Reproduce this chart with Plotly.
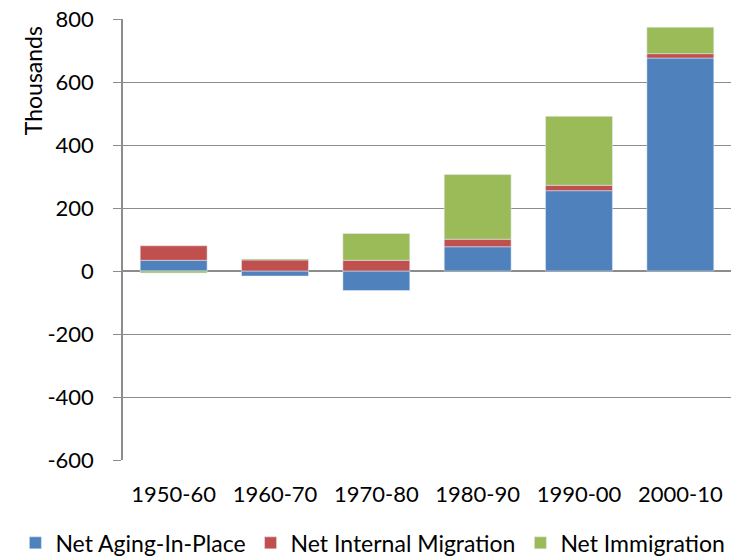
import plotly.graph_objects as go

categories = ["1950-60", "1960-70", "1970-80", "1980-90", "1990-00", "2000-10"]
aging_in_place = [34, -16, -62, 77, 255, 676]
internal_migration = [46, 35, 34, 24, 17, 14]
immigration = [-6, 3, 85, 205, 219, 84]
y_ticks = [-600, -400, -200, 0, 200, 400, 600, 800]
y_tick_text = ["-600", "-400", "-200", "0", "200", "400", "600", "800"]

FONT = "Lato"
GRID = "#8c8c8c"

fig = go.Figure()
fig.add_bar(x=categories, y=aging_in_place, name="Net Aging-In-Place", marker_color="#4F81BD")
fig.add_bar(x=categories, y=internal_migration, name="Net Internal Migration", marker_color="#C0504D")
fig.add_bar(x=categories, y=immigration, name="Net Immigration", marker_color="#9BBB59")

fig.update_layout(
    width=737, height=558,
    barmode="relative",
    bargap=0.34,
    plot_bgcolor="white", paper_bgcolor="white",
    margin=dict(l=123, r=6, t=19, b=98, autoexpand=False),
    font=dict(family=FONT, size=22, color="black"),
    showlegend=True,
    legend=dict(orientation="h", xref="paper", x=-0.177, xanchor="left",
                yref="paper", y=-0.188, yanchor="middle",
                font=dict(size=23), itemwidth=30, tracegroupgap=0,
                traceorder="normal", bgcolor="rgba(0,0,0,0)"),
    annotations=[dict(text="Thousands", textangle=-90, xref="paper", yref="paper",
                      x=-0.148, y=0.859, xanchor="center", yanchor="middle",
                      showarrow=False, font=dict(size=23))],
)
fig.update_xaxes(type="category", showgrid=False, showline=False, ticks="",
                 automargin=False,
                 ticklabelstandoff=19, tickfont=dict(size=22))
fig.update_yaxes(range=[-600, 800], tickvals=y_ticks, ticktext=y_tick_text,
                 automargin=False,
                 showgrid=True, gridcolor=GRID,
                 gridwidth=1, zeroline=True, zerolinecolor=GRID, zerolinewidth=1.5,
                 showline=True, linecolor=GRID, linewidth=1.5,
                 ticks="outside", ticklen=8, tickcolor=GRID,
                 ticklabelstandoff=15, tickfont=dict(size=22))

fig.write_html("out.html", config={"displayModeBar": False},
               post_script="document.body.style.margin='0';")
